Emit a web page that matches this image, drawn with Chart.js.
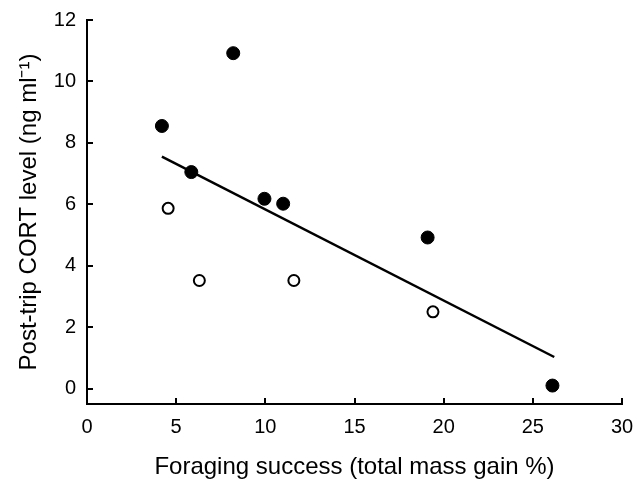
<!DOCTYPE html>
<html>
<head>
<meta charset="utf-8">
<script src="https://cdn.jsdelivr.net/npm/chart.js@4"></script>
<style>
  html, body { margin: 0; padding: 0; background: #fff; }
  #contenedor { width: 635px; height: 482px; }
</style>
</head>
<body>
<div id="contenedor"><canvas id="grafico"></canvas></div>
<script>
// Datos: puntos llenos y vacios
const xLlenos = [4.2, 5.85, 8.2, 9.95, 11.0, 19.1, 26.1]
const yLlenos = [8.55, 7.05, 10.92, 6.18, 6.02, 4.92, 0.1]
const xVacios = [4.55, 6.3, 11.6, 19.4]
const yVacios = [5.87, 3.52, 3.52, 2.5]

// Recta de regresion (extremos)
const xRecta = [4.2, 26.2]
const yRecta = [7.55, 1.03]

// Marcas de los ejes
const ticksX = [0, 5, 10, 15, 20, 25, 30]
const ticksY = [0, 2, 4, 6, 8, 10, 12]

const familia = "'Liberation Sans', Arial, sans-serif"
const fuenteTicks = { family: familia, size: 20 }
const fuenteTitulo = { family: familia, size: 24 }

// Se juntan las listas x/y en puntos para Chart.js
const juntar = (xs, ys) => xs.map((x, i) => ({ x: x, y: ys[i] }))

// Plugin para dibujar las marcas hacia adentro del area
const marcasAdentro = {
    id: 'marcasAdentro',
    afterDatasetsDraw: (chart) => {
        const ctx = chart.ctx
        const sx = chart.scales.x
        const sy = chart.scales.y
        const largo = 6
        ctx.save()
        ctx.strokeStyle = '#000'
        ctx.lineWidth = 2
        ctx.beginPath()
        ticksX.forEach(v => {
            const px = Math.round(sx.getPixelForValue(v))
            ctx.moveTo(px, sy.bottom)
            ctx.lineTo(px, sy.bottom - largo)
        })
        ticksY.forEach(v => {
            const py = Math.round(sy.getPixelForValue(v))
            ctx.moveTo(sx.left, py)
            ctx.lineTo(sx.left + largo, py)
        })
        ctx.stroke()
        ctx.restore()
    }
}

const grafico = document.getElementById('grafico')
new Chart(grafico, {
    type: 'scatter',
    data: {
        datasets: [{
            type: 'line',
            data: juntar(xRecta, yRecta),
            borderColor: '#000',
            borderWidth: 2.5,
            pointRadius: 0,
            fill: false,
            order: 2
        },
        {
            data: juntar(xLlenos, yLlenos),
            backgroundColor: '#000',
            borderColor: '#000',
            borderWidth: 1,
            pointRadius: 6.5,
            order: 1
        },
        {
            data: juntar(xVacios, yVacios),
            backgroundColor: '#fff',
            borderColor: '#000',
            borderWidth: 2,
            pointRadius: 5.5,
            order: 1
        }]
    },
    options: {
        responsive: true,
        maintainAspectRatio: false,
        animation: false,
        layout: { padding: { top: 20, right: 13, left: 15, bottom: 0 } },
        plugins: {
            legend: { display: false },
            tooltip: { enabled: false }
        },
        scales: {
            x: {
                type: 'linear',
                min: 0,
                max: 30,
                afterBuildTicks: (s) => { s.ticks = ticksX.map(v => ({ value: v })) },
                afterFit: (s) => {
                    s.height = 78
                    s.paddingLeft = 0
                    s.paddingRight = 0
                },
                grid: { display: false, drawTicks: false },
                border: { display: true, color: '#000', width: 2 },
                ticks: { color: '#000', font: fuenteTicks, padding: 11, maxRotation: 0 },
                title: {
                    display: true,
                    text: 'Foraging success (total mass gain %)',
                    color: '#000',
                    font: fuenteTitulo,
                    padding: { top: 9, bottom: 0 }
                }
            },
            y: {
                type: 'linear',
                min: -0.5,
                max: 12,
                afterBuildTicks: (s) => { s.ticks = ticksY.map(v => ({ value: v })) },
                afterFit: (s) => {
                    s.width = 72
                    s.paddingTop = 0
                    s.paddingBottom = 0
                },
                grid: { display: false, drawTicks: false },
                border: { display: true, color: '#000', width: 2 },
                ticks: { color: '#000', font: fuenteTicks, padding: 11 },
                title: {
                    display: true,
                    text: 'Post-trip CORT level (ng ml\u207B\u00B9)',
                    color: '#000',
                    font: fuenteTitulo,
                    padding: { top: 0, bottom: 6 }
                }
            }
        }
    },
    plugins: [marcasAdentro]
})
</script>
</body>
</html>
